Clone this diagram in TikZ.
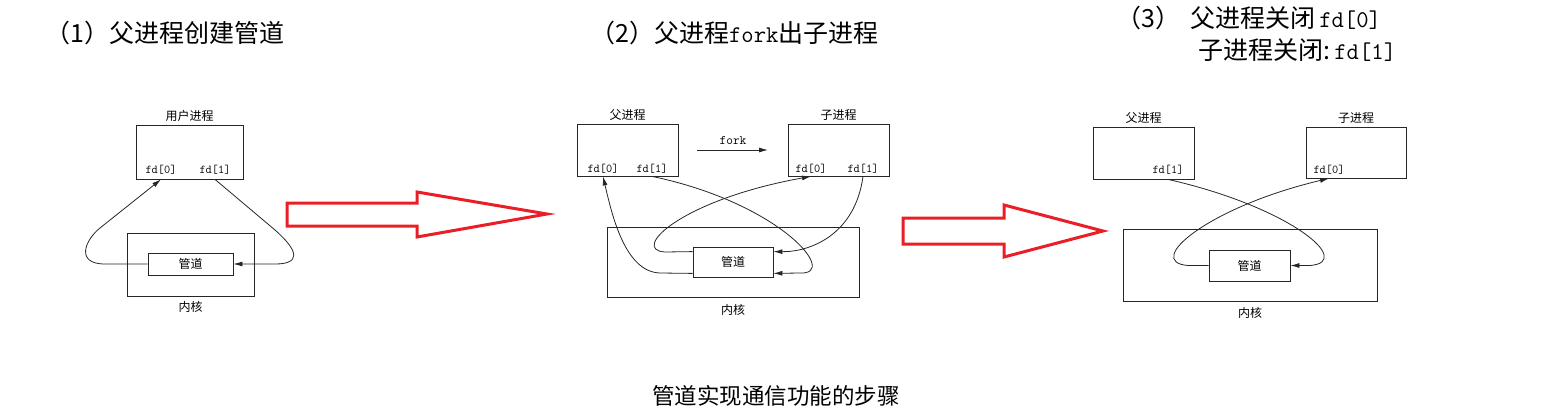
\documentclass[tikz,border=0pt]{standalone}
\usepackage{fontspec}
\setmainfont{Noto Sans CJK SC}
\usetikzlibrary{positioning,arrows.meta}
\definecolor{arrowred}{RGB}{234,30,38}
\newcommand\latn[1]{{\ttfamily\fontsize{24}{26}\selectfont #1}}

\begin{document}
\begin{tikzpicture}[
    x=1pt, y=-1pt,
    box/.style={rectangle, draw=black!85, line width=0.8pt},
    proc/.style={box, minimum width=101pt, minimum height=52pt},
    kern/.style={box, minimum width=252pt, minimum height=70pt},
    pipe/.style={box, minimum width=80pt, minimum height=30pt, font=\fontsize{12}{13}\selectfont},
    lbl/.style={font=\fontsize{12}{13}\selectfont, inner sep=1pt},
    fdlbl/.style={font=\ttfamily\fontsize{12}{13}\selectfont, inner sep=1pt},
    title/.style={font=\fontsize{25}{28}\selectfont, anchor=west, inner sep=0pt},
    conn/.style={draw=black!85, line width=0.8pt, -{Latex[length=9pt,width=5pt]}},
    bigarrow/.style={draw=arrowred, line width=3pt, line join=miter}
]
    \useasboundingbox (0,0) rectangle (1565,409);

    % 标题
    \node[title] (title1) at (45,33) {（1）父进程创建管道};
    \node[title] (title2) at (590,33) {（2）父进程\latn{fork}出子进程};
    \node[title] (title3a) at (1116,18) {（3）\hspace{10pt}父进程关闭\,\latn{fd[0]}};
    \node[title] (title3b) at (1198,50) {子进程关闭:\,\latn{fd[1]}};
    \node[title, anchor=center, font=\fontsize{22.5}{25}\selectfont] (caption) at (776,396) {管道实现通信功能的步骤};

    % (1) 用户进程 + 内核
    \node[proc, minimum width=107pt, minimum height=54pt] (user) at (189.5,152) {};
    \node[lbl, above=2pt of user] (userlbl) {用户进程};
    \node[fdlbl] (ufd0) at (161,170) {fd[0]};
    \node[fdlbl] (ufd1) at (215,170) {fd[1]};
    \node[kern, minimum width=127pt, minimum height=63pt] (kern1) at (190.5,264.5) {};
    \node[pipe, minimum width=85pt, minimum height=22pt] (pipe1) at (190.5,264) {管道};
    \node[lbl, below=4pt of kern1] (kern1lbl) {内核};
    \draw[conn] (pipe1.west) -- (105,264) .. controls (75,264) and (85,240) .. (100,228) -- (ufd0 |- user.south);
    \draw[conn] (ufd1 |- user.south) -- (275,230) .. controls (300,252) and (300,264) .. (275,264) -- (pipe1.east);

    % 箭头 1
    \draw[bigarrow] (287,203) -- (417,203) -- (417,192) -- (547,214) -- (417,237) -- (417,226) -- (287,226) -- cycle;

    % (2) 父进程 fork 子进程
    \node[proc] (parent2) at (627.5,150) {};
    \node[lbl, above=2pt of parent2] (parent2lbl) {父进程};
    \node[proc] (child2) at (838.5,150) {};
    \node[lbl, above=2pt of child2] (child2lbl) {子进程};
    \node[fdlbl] (pfd0) at (603,169) {fd[0]};
    \node[fdlbl] (pfd1) at (652,169) {fd[1]};
    \node[fdlbl] (cfd0) at (811,169) {fd[0]};
    \node[fdlbl] (cfd1) at (863,169) {fd[1]};
    \node[fdlbl, font=\ttfamily\fontsize{13}{14}\selectfont] (forklbl) at (733,141) {fork};
    \coordinate (forka) at (697,150);
    \coordinate (forkb) at (768,150);
    \draw[conn] (forka) -- (forkb);
    \node[kern] (kern2) at (733,262) {};
    \node[pipe] (pipe2) at (733,262) {管道};
    \node[lbl, below=6pt of kern2] (kern2lbl) {内核};
    \draw[conn] ([yshift=4pt]pipe2.south west) -- (660,273) .. controls (625,272) and (612,215) .. (pfd0 |- parent2.south);
    \draw[conn] (pfd1 |- parent2.south) .. controls (780,203) and (840,275) .. (800,273) -- ([yshift=4pt]pipe2.south east);
    \draw[conn] (cfd1 |- child2.south) .. controls (855,235) and (810,252) .. ([yshift=-5pt]pipe2.north east);
    \draw[conn] ([yshift=-5pt]pipe2.north west) -- (665,252) .. controls (630,250) and (680,200) .. (cfd0 |- child2.south);

    % 箭头 2
    \draw[bigarrow] (903,218) -- (1004,218) -- (1004,205) -- (1103,231) -- (1004,257) -- (1004,244) -- (903,244) -- cycle;

    % (3) 关闭不用的端
    \node[proc] (parent3) at (1143.5,153) {};
    \node[lbl, above=2pt of parent3] (parent3lbl) {父进程};
    \node[proc, minimum width=100pt, minimum height=51pt] (child3) at (1356,152.5) {};
    \node[lbl, above=2pt of child3] (child3lbl) {子进程};
    \node[fdlbl] (p3fd1) at (1168,170) {fd[1]};
    \node[fdlbl] (c3fd0) at (1329,170) {fd[0]};
    \node[kern, minimum width=254pt, minimum height=72pt] (kern3) at (1250,265) {};
    \node[pipe, minimum width=81pt, minimum height=31pt] (pipe3) at (1249.5,265.5) {管道};
    \node[lbl, below=5pt of kern3] (kern3lbl) {内核};
    \draw[conn] (p3fd1 |- parent3.south) .. controls (1290,207) and (1355,262) .. (1310,265.5) -- (pipe3.east);
    \draw[conn] (pipe3.west) -- (1188,265.5) .. controls (1143,262) and (1208,207) .. (c3fd0 |- child3.south);
\end{tikzpicture}
\end{document}
